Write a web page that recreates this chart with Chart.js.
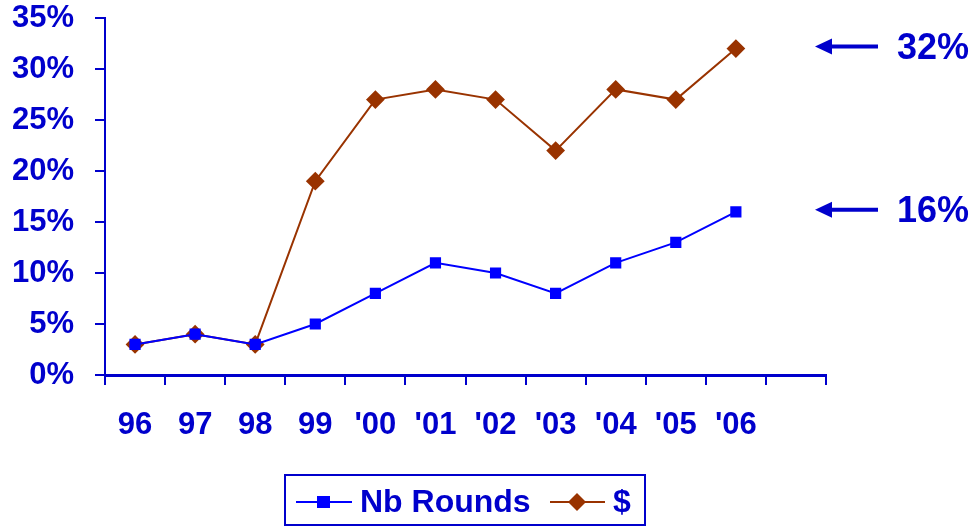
<!DOCTYPE html>
<html>
<head>
<meta charset="utf-8">
<script src="https://cdn.jsdelivr.net/npm/chart.js@4"></script>
<style>
  body { margin: 0; background: #fff; }
  #wrap { width: 974px; height: 526px; position: relative; }
</style>
</head>
<body>
<div id="wrap"><canvas id="chartHolder"></canvas></div>
<script>
const years = ["96", "97", "98", "99", "'00", "'01", "'02", "'03", "'04", "'05", "'06", ""];
const nbRounds = [3, 4, 3, 5, 8, 11, 10, 8, 11, 13, 16];
const dollars = [3, 4, 3, 19, 27, 28, 27, 22, 28, 27, 32];
const yTicks = [0, 5, 10, 15, 20, 25, 30, 35];

const axisBlue = "#0000CC";
const lineBlue = "#0000FF";
const brown = "#993300";
const font = "'Liberation Sans', Arial, sans-serif";

// arrows + final value on the right
const arrowPlugin = {
  id: "arrows",
  afterDraw(chart) {
    const ctx = chart.ctx;
    const y = chart.scales.y;
    ctx.save();
    chart.data.datasets.forEach(ds => {
      const last = ds.data[ds.data.length - 1];
      const py = y.getPixelForValue(last) - 2;
      ctx.strokeStyle = axisBlue;
      ctx.fillStyle = axisBlue;
      ctx.lineWidth = 4;
      ctx.beginPath();
      ctx.moveTo(878, py);
      ctx.lineTo(828, py);
      ctx.stroke();
      ctx.beginPath();
      ctx.moveTo(815, py);
      ctx.lineTo(832, py - 8);
      ctx.lineTo(832, py + 8);
      ctx.closePath();
      ctx.fill();
      ctx.font = "bold 36px " + font;
      ctx.textBaseline = "middle";
      ctx.fillText(last + "%", 897, py + 2);
    });
    ctx.restore();
  }
};

// boxed legend at the bottom
const legendPlugin = {
  id: "boxLegend",
  afterDraw(chart) {
    const ctx = chart.ctx;
    ctx.save();
    ctx.strokeStyle = axisBlue;
    ctx.lineWidth = 2;
    ctx.strokeRect(285, 475, 360, 50);
    const ly = 502;
    ctx.lineWidth = 2;
    ctx.strokeStyle = lineBlue;
    ctx.beginPath(); ctx.moveTo(296, ly); ctx.lineTo(352, ly); ctx.stroke();
    ctx.fillStyle = lineBlue;
    ctx.fillRect(317, ly - 6, 13, 12);
    ctx.strokeStyle = brown;
    ctx.beginPath(); ctx.moveTo(550, ly); ctx.lineTo(605, ly); ctx.stroke();
    ctx.fillStyle = brown;
    ctx.beginPath();
    ctx.moveTo(577, ly - 9); ctx.lineTo(586, ly); ctx.lineTo(577, ly + 9); ctx.lineTo(568, ly);
    ctx.closePath(); ctx.fill();
    ctx.fillStyle = axisBlue;
    ctx.font = "bold 32px " + font;
    ctx.textBaseline = "middle";
    ctx.fillText("Nb Rounds", 360, ly + 1);
    ctx.fillText("$", 613, ly + 1);
    ctx.restore();
  }
};

new Chart(document.getElementById("chartHolder"), {
  type: "line",
  data: {
    labels: years,
    datasets: [
      {
        label: "Nb Rounds",
        data: nbRounds,
        borderColor: lineBlue,
        backgroundColor: lineBlue,
        borderWidth: 2,
        pointStyle: "rect",
        pointRadius: 6.5,
        pointHoverRadius: 6.5
      },
      {
        label: "$",
        data: dollars,
        borderColor: brown,
        backgroundColor: brown,
        borderWidth: 2,
        pointStyle: "rectRot",
        pointRadius: 8,
        pointHoverRadius: 8
      }
    ]
  },
  options: {
    responsive: true,
    maintainAspectRatio: false,
    animation: false,
    layout: { padding: { left: 0, right: 148, top: 18, bottom: 0 } },
    plugins: {
      legend: { display: false },
      tooltip: { enabled: false }
    },
    scales: {
      x: {
        offset: true,
        afterFit: axis => { axis.height = 151; },
        grid: { offset: true, drawOnChartArea: false, color: axisBlue, lineWidth: 2, tickLength: 10 },
        border: { color: axisBlue, width: 3 },
        ticks: { color: axisBlue, font: { family: font, size: 31, weight: "bold" }, padding: 22, maxRotation: 0, autoSkip: false }
      },
      y: {
        min: 0,
        max: 35,
        afterFit: axis => { axis.width = 105; axis.paddingTop = 0; axis.paddingBottom = 0; },
        afterBuildTicks: axis => { axis.ticks = yTicks.map(v => ({ value: v })); },
        grid: { drawOnChartArea: false, color: axisBlue, lineWidth: 2, tickLength: 10 },
        border: { color: axisBlue, width: 2 },
        ticks: { color: axisBlue, font: { family: font, size: 31, weight: "bold" }, padding: 21, callback: v => v + "%" }
      }
    }
  },
  plugins: [arrowPlugin, legendPlugin]
});
</script>
</body>
</html>
